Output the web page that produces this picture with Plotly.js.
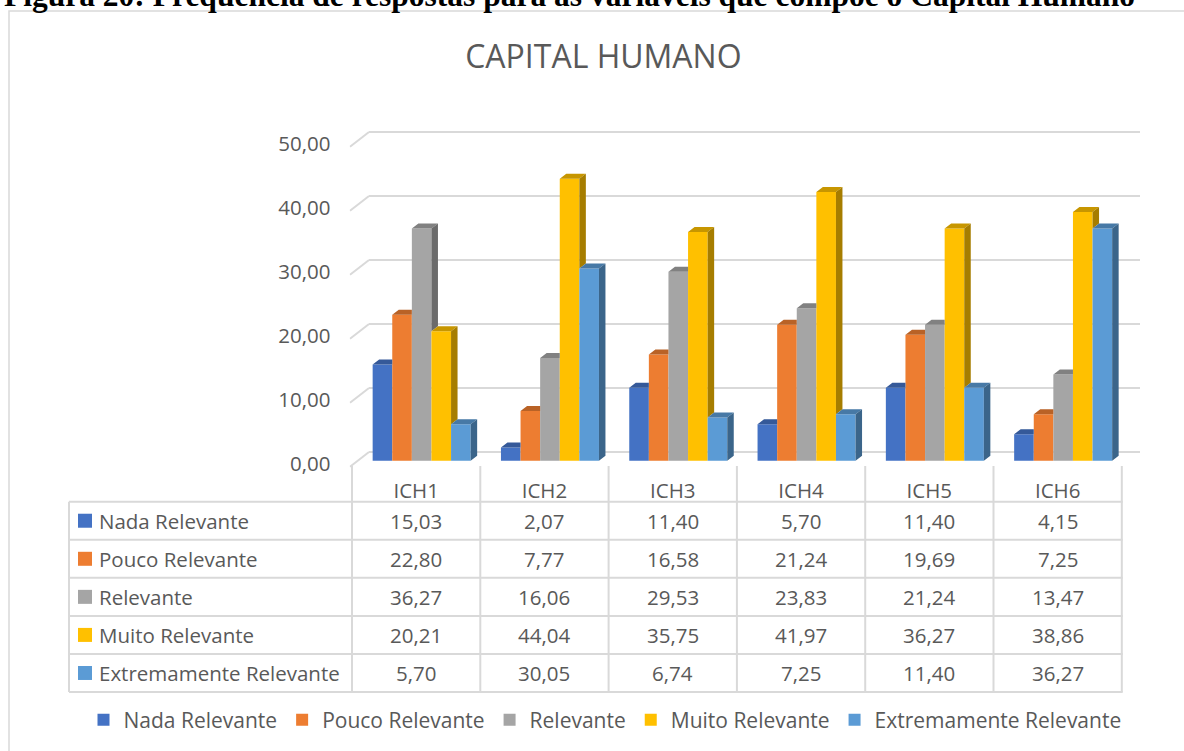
<!DOCTYPE html>
<html>
<head>
<meta charset="utf-8">
<script src="https://cdn.plot.ly/plotly-3.0.1.min.js"></script>
<style>
  body { margin: 0; background: #fff; }
  #chart { width: 1184px; height: 751px; }
</style>
</head>
<body>
<div id="chart"></div>
<script>
// data
const categories = ["ICH1", "ICH2", "ICH3", "ICH4", "ICH5", "ICH6"];
const seriesNames = ["Nada Relevante", "Pouco Relevante", "Relevante", "Muito Relevante", "Extremamente Relevante"];
const nadaRelevante = [15.03, 2.07, 11.40, 5.70, 11.40, 4.15];
const poucoRelevante = [22.80, 7.77, 16.58, 21.24, 19.69, 7.25];
const relevante = [36.27, 16.06, 29.53, 23.83, 21.24, 13.47];
const muitoRelevante = [20.21, 44.04, 35.75, 41.97, 36.27, 38.86];
const extremamenteRelevante = [5.70, 30.05, 6.74, 7.25, 11.40, 36.27];
const yTicks = [0, 10, 20, 30, 40, 50];

const seriesValues = [nadaRelevante, poucoRelevante, relevante, muitoRelevante, extremamenteRelevante];
const colours = ["#4472C4", "#ED7D31", "#A5A5A5", "#FFC000", "#5B9BD5"];

const W = 1184, H = 751;
const FONT = "Open Sans, sans-serif";
const TEXT = "#595959";
const GRID = "#D9D9D9";
const px2x = p => p / W;
const py2y = p => 1 - p / H;

// axis geometry (pixels)
const X0_PX = 352, X_PER_UNIT = 128.3;   // left edge of ICH1 column
const Y0_PX = 460.7, Y_PER_UNIT = 6.4;   // bar base
const xRange = [-0.52, 5.65];
const yRange = [-1.2, 52];
const xDomain = [(X0_PX + (xRange[0] + 0.5) * X_PER_UNIT) / W, (X0_PX + (xRange[1] + 0.5) * X_PER_UNIT) / W];
const yDomain = [1 - (Y0_PX - yRange[0] * Y_PER_UNIT) / H, 1 - (Y0_PX - yRange[1] * Y_PER_UNIT) / H];
const xd = p => -0.5 + (p - X0_PX) / X_PER_UNIT;

// fake 3d bars
const BAR_W = 19.6 / X_PER_UNIT;
const GROUP_OFFSET = -43.5 / X_PER_UNIT;
const DX = 6.5 / X_PER_UNIT, DY = 5 / Y_PER_UNIT;

function shade(hex, f) {
    const n = parseInt(hex.slice(1), 16);
    const c = [(n >> 16) & 255, (n >> 8) & 255, n & 255].map(v => Math.round(v * f));
    return "rgb(" + c.join(",") + ")";
}

const fmt = v => v.toFixed(2).replace(".", ",");

const bars = seriesValues.map((vals, k) => ({
    type: "bar",
    name: seriesNames[k],
    x: categories.map((c, i) => i),
    y: vals,
    width: BAR_W,
    offset: GROUP_OFFSET + k * BAR_W,
    marker: { color: colours[k], line: { width: 0 } },
    hoverinfo: "skip"
}));

const faces = [];
seriesValues.forEach((vals, k) => {
    const next = seriesValues[k + 1];
    const tx = [], ty = [], sx = [], sy = [];
    vals.forEach((h, i) => {
        const xl = i + GROUP_OFFSET + k * BAR_W, xr = xl + BAR_W;
        const hn = next ? next[i] : 0;
        if (next && hn >= h) {
            // neighbour in front is taller: only the left part of the top shows
            tx.push(xl, xr, xr, xl + DX, null);
            ty.push(h, h, h + DY, h + DY, null);
        } else {
            tx.push(xl, xr, xr + DX, xl + DX, null);
            ty.push(h, h, h + DY, h + DY, null);
            sx.push(xr, xr + DX, xr + DX, xr, null);
            sy.push(hn, hn + DY, h + DY, h, null);
        }
    });
    faces.push({
        type: "scatter", mode: "lines", x: tx, y: ty, fill: "toself",
        fillcolor: shade(colours[k], 0.78), line: { width: 0 }, hoverinfo: "skip", showlegend: false
    });
    faces.push({
        type: "scatter", mode: "lines", x: sx, y: sy, fill: "toself",
        fillcolor: shade(colours[k], 0.65), line: { width: 0 }, hoverinfo: "skip", showlegend: false
    });
});

// back wall gridlines with a slanted floor edge on the left
const shapes = [];
const BACK = 8.7 / Y_PER_UNIT, FRONT = 6 / Y_PER_UNIT;
yTicks.forEach(v => {
    shapes.push({
        type: "line", layer: "below", xref: "x", yref: "y",
        x0: xd(369), x1: xd(1140), y0: v + BACK, y1: v + BACK,
        line: { color: GRID, width: 2 }
    });
    shapes.push({
        type: "line", layer: "below", xref: "x", yref: "y",
        x0: xd(350), x1: xd(369), y0: v - FRONT, y1: v + BACK,
        line: { color: GRID, width: 2 }
    });
});

// data table under the plot
const ROW_TOP = 501.7, ROW_H = 38.06;
const TABLE_L = 69, TABLE_R = 1122.7;
const annotations = [];
for (let r = 0; r <= seriesNames.length; r++) {
    const yy = py2y(ROW_TOP + r * ROW_H);
    shapes.push({
        type: "line", xref: "paper", yref: "paper",
        x0: px2x(TABLE_L), x1: px2x(TABLE_R), y0: yy, y1: yy,
        line: { color: GRID, width: 2 }
    });
}
shapes.push({
    type: "line", xref: "paper", yref: "paper",
    x0: px2x(TABLE_L), x1: px2x(TABLE_L),
    y0: py2y(ROW_TOP), y1: py2y(ROW_TOP + seriesNames.length * ROW_H),
    line: { color: GRID, width: 2 }
});
for (let i = 0; i <= categories.length; i++) {
    shapes.push({
        type: "line", xref: "x", yref: "paper",
        x0: i - 0.5, x1: i - 0.5,
        y0: py2y(466), y1: py2y(ROW_TOP + seriesNames.length * ROW_H),
        line: { color: GRID, width: 2 }
    });
}
seriesNames.forEach((name, r) => {
    const cy = ROW_TOP + (r + 0.5) * ROW_H;
    shapes.push({
        type: "rect", xref: "paper", yref: "paper",
        x0: px2x(78), x1: px2x(92), y0: py2y(cy - 7), y1: py2y(cy + 7),
        fillcolor: colours[r], line: { width: 0 }
    });
    annotations.push({
        xref: "paper", yref: "paper", x: px2x(97), y: py2y(cy),
        xanchor: "left", yanchor: "middle", showarrow: false, text: name,
        font: { family: FONT, size: 20.5, color: TEXT }
    });
    seriesValues[r].forEach((v, i) => {
        annotations.push({
            xref: "x", yref: "paper", x: i, y: py2y(cy),
            xanchor: "center", yanchor: "middle", showarrow: false, text: fmt(v),
            font: { family: FONT, size: 20.5, color: TEXT }
        });
    });
});

// chart border
shapes.push({
    type: "rect", xref: "paper", yref: "paper", layer: "below",
    x0: px2x(9), x1: px2x(1200), y0: py2y(11), y1: py2y(770),
    line: { color: GRID, width: 1.5 }
});

// figure caption, cut by the top edge as in the source page
annotations.push({
    xref: "paper", yref: "paper", x: px2x(569), y: py2y(15),
    xanchor: "center", yanchor: "bottom", showarrow: false,
    text: "<b>Figura 20: Frequência de respostas para as variáveis que compõe o Capital Humano</b>",
    font: { family: "Liberation Serif, Times New Roman, serif", size: 31.5, color: "#000" }
});

const layout = {
    width: W,
    height: H,
    margin: { l: 0, r: 0, t: 0, b: 0 },
    paper_bgcolor: "#fff",
    plot_bgcolor: "rgba(0,0,0,0)",
    separators: ",.",
    barmode: "overlay",
    title: {
        text: "CAPITAL HUMANO",
        font: { family: FONT, size: 32, color: TEXT },
        x: px2x(603.4), xanchor: "center", xref: "paper",
        y: py2y(56.5), yanchor: "middle", yref: "paper"
    },
    xaxis: {
        domain: xDomain,
        range: xRange,
        tickvals: categories.map((c, i) => i),
        ticktext: categories,
        ticks: "",
        ticklabelstandoff: 8,
        tickfont: { family: FONT, size: 20.5, color: TEXT },
        showgrid: false, zeroline: false, showline: false, fixedrange: true
    },
    yaxis: {
        domain: yDomain,
        range: yRange,
        tickvals: yTicks,
        tickformat: ".2f",
        ticks: "",
        ticklabelstandoff: 18,
        ticklabelshift: 3,
        tickfont: { family: FONT, size: 20.5, color: TEXT },
        showgrid: false, zeroline: false, showline: false, fixedrange: true
    },
    shapes: shapes,
    annotations: annotations,
    showlegend: true,
    legend: {
        orientation: "h",
        x: px2x(605), xanchor: "center",
        y: py2y(720), yanchor: "middle",
        traceorder: "normal",
        font: { family: FONT, size: 21, color: TEXT },
        bgcolor: "rgba(0,0,0,0)"
    }
};

Plotly.newPlot("chart", bars.concat(faces), layout, { displayModeBar: false, staticPlot: true });
</script>
</body>
</html>
